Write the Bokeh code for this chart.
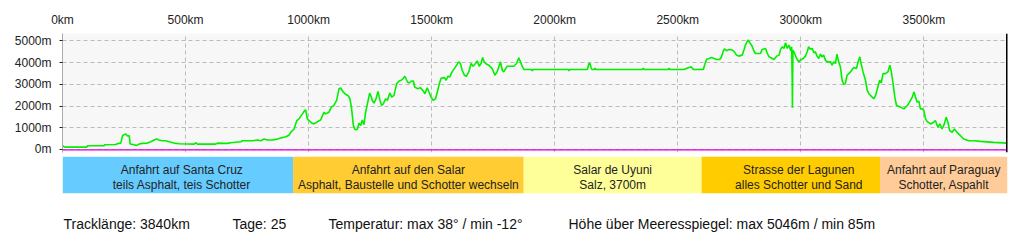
from bokeh.plotting import figure
from bokeh.layouts import column
from bokeh.models import Range1d, FixedTicker, PrintfTickFormatter, Span, Label
from bokeh.embed import file_html
from bokeh.resources import INLINE
from bokeh.core.properties import value

# ---------------- data ----------------
distance_km = [0, 9, 99, 101, 169, 172, 216, 226, 237, 244, 250, 257, 264, 271, 275, 291, 302, 311, 325, 345,
               359, 372, 383, 392, 406, 420, 433, 453, 474, 535, 542, 548, 623, 630, 657, 670, 684, 725, 731, 772,
               792, 806, 819, 833, 853, 867, 887, 908, 921, 927, 941, 952, 961, 975, 984, 988, 995, 1009, 1019, 1033,
               1049, 1063, 1069, 1083, 1092, 1103, 1114, 1124, 1130, 1141, 1151, 1160, 1168, 1174, 1182, 1189, 1198,
               1205, 1212, 1218, 1225, 1232, 1239, 1248, 1255, 1259, 1266, 1274, 1282, 1290, 1297, 1304, 1313, 1320,
               1330, 1338, 1347, 1358, 1368, 1381, 1391, 1402, 1409, 1418, 1426, 1431, 1442, 1455, 1466, 1473, 1482,
               1489, 1498, 1506, 1516, 1523, 1532, 1539, 1552, 1559, 1566, 1574, 1583, 1597, 1610, 1617, 1624, 1633,
               1641, 1651, 1660, 1668, 1678, 1685, 1693, 1701, 1707, 1712, 1719, 1732, 1746, 1757, 1766, 1773, 1780,
               1787, 1793, 1807, 1818, 1834, 1845, 1854, 1861, 1868, 1875, 1905, 1909, 1913, 2054, 2058, 2062, 2133,
               2139, 2143, 2148, 2152, 2160, 2164, 2168, 2356, 2360, 2364, 2461, 2465, 2469, 2525, 2546, 2555, 2563,
               2604, 2611, 2618, 2627, 2637, 2648, 2657, 2671, 2678, 2685, 2690, 2698, 2708, 2721, 2728, 2739, 2748,
               2762, 2769, 2775, 2785, 2793, 2802, 2809, 2816, 2836, 2843, 2857, 2864, 2871, 2884, 2891, 2902, 2912,
               2918, 2925, 2932, 2938, 2945, 2952, 2959, 2963, 2965, 2966, 2968, 2975, 2983, 2992, 2999, 3010, 3019,
               3026, 3032, 3039, 3046, 3053, 3059, 3066, 3073, 3080, 3086, 3093, 3100, 3107, 3121, 3127, 3134, 3141,
               3147, 3154, 3161, 3168, 3174, 3181, 3188, 3195, 3202, 3209, 3215, 3226, 3233, 3240, 3245, 3253, 3263,
               3270, 3277, 3290, 3297, 3304, 3313, 3321, 3327, 3334, 3344, 3354, 3362, 3368, 3376, 3382, 3389, 3406,
               3419, 3433, 3442, 3453, 3460, 3466, 3473, 3480, 3486, 3493, 3500, 3507, 3513, 3527, 3540, 3547, 3557,
               3565, 3574, 3581, 3591, 3598, 3605, 3615, 3624, 3635, 3649, 3662, 3683, 3703, 3730, 3784, 3838]
elevation_m = [185, 123, 123, 185, 185, 231, 246, 293, 308, 647, 693, 724, 631, 647, 262, 231, 200, 262, 293, 308,
               370, 447, 493, 447, 416, 416, 370, 308, 277, 262, 323, 262, 262, 308, 293, 293, 323, 370, 416, 416,
               447, 416, 493, 447, 447, 477, 539, 600, 678, 801, 955, 1340, 1417, 1648, 1802, 1833, 1417, 1263, 1186, 1263,
               1371, 1725, 1648, 1725, 1956, 2033, 2264, 2803, 2834, 2649, 2541, 2495, 2341, 1956, 1109, 924, 939,
               1217, 1109, 1371, 1155, 1725, 2110, 2603, 2418, 2264, 2141, 2341, 2680, 2264, 2033, 2110, 2341, 2264,
               2603, 2418, 2495, 3034, 3157, 3219, 3373, 3111, 3065, 3157, 3157, 2880, 2803, 2849, 2695, 2572, 2849,
               2649, 2418, 2264, 2341, 2649, 3065, 3296, 3311, 3188, 3373, 3342, 3573, 3804, 4035, 3958, 3650, 3419,
               3373, 3573, 3958, 3835, 3958, 4081, 3835, 3958, 4235, 4081, 3958, 3881, 3727, 3419, 3573, 3804, 4035,
               3650, 3573, 3835, 3835, 3835, 3958, 4220, 4035, 3835, 3681, 3681, 3620, 3681, 3681, 3620, 3681, 3681,
               3958, 3958, 3773, 3681, 3681, 3740, 3681, 3681, 3740, 3681, 3681, 3740, 3681, 3681, 3773, 3804, 3681,
               3681, 3958, 4158, 4189, 4235, 4189, 4143, 4143, 4266, 4528, 4635, 4543, 4605, 4574, 4528, 4343, 4297,
               4343, 4574, 4805, 5036, 4913, 4759, 4543, 4420, 4420, 4605, 4651, 4420, 4266, 4189, 4143, 4297, 4343,
               4605, 4728, 4651, 4913, 4651, 4805, 4543, 4728, 3342, 1925, 4574, 4420, 4189, 4035, 4112, 4189, 4297,
               4497, 4728, 4605, 4651, 4451, 4497, 4297, 4189, 4389, 4266, 4343, 4112, 4035, 4035, 3881, 4035, 3958,
               4389, 4035, 3804, 3188, 3003, 3034, 3419, 3496, 3573, 3681, 3773, 3727, 4035, 4266, 3958, 3573, 3188,
               2726, 2572, 2418, 2341, 2495, 2880, 3188, 3065, 3496, 3496, 3573, 3881, 3573, 2957, 2418, 2033, 1956,
               1879, 2033, 2187, 2418, 2649, 2418, 2187, 2233, 1879, 1879, 1802, 1417, 1309, 1186, 1263, 1340, 1032,
               1186, 955, 1109, 1494, 1263, 878, 801, 955, 801, 647, 493, 416, 416, 385, 339, 308]

x_ticks_km = [0, 500, 1000, 1500, 2000, 2500, 3000, 3500]
y_ticks_m = [0, 1000, 2000, 3000, 4000, 5000]
track_length_km = 3840

section_start_km = [0, 937, 1874, 2597, 3322]
section_end_km = [937, 1874, 2597, 3322, 3840]
section_titles = ["Anfahrt auf Santa Cruz", "Anfahrt auf den Salar", "Salar de Uyuni",
                  "Strasse der Lagunen", "Anfahrt auf Paraguay"]
section_notes = ["teils Asphalt, teis Schotter", "Asphalt, Baustelle und Schotter wechseln",
                 "Salz, 3700m", "alles Schotter und Sand", "Schotter, Aspahlt"]
section_colors = ["#66ccff", "#ffcc33", "#ffff99", "#ffcc00", "#ffcc99"]

summary_texts = ["Tracklänge: 3840km", "Tage: 25", "Temperatur: max 38° / min -12°",
                 "Höhe über Meeresspiegel: max 5046m / min 85m"]

# ---------------- styling ----------------
FONT = "Liberation Sans"
W = 1024
LEFT, RIGHT = 62, 17
label_x_offsets = [4, 0, 0, 8, 0]
summary_x_px = [63, 232, 328, 568]   # page pixels

# ---------------- main elevation chart ----------------
p = figure(width=W, height=155, x_range=Range1d(0, track_length_km), y_range=Range1d(-124, 5335),
           output_backend="svg", toolbar_location=None, x_axis_location="above",
           min_border_left=LEFT, min_border_right=RIGHT, min_border_top=33, min_border_bottom=3)
p.background_fill_color = "#f7f7f7"
p.border_fill_color = "white"
p.outline_line_color = None

xa = p.xaxis[0]
xa.ticker = FixedTicker(ticks=x_ticks_km)
xa.formatter = PrintfTickFormatter(format="%dkm")
xa.major_tick_out = 0
xa.major_tick_in = 0
xa.minor_tick_line_color = None
xa.axis_line_color = None
xa.major_label_standoff = 7
xa.major_label_text_font = FONT
xa.major_label_text_font_size = "12px"
xa.major_label_text_color = "#222222"

ya = p.yaxis[0]
ya.ticker = FixedTicker(ticks=y_ticks_m)
ya.formatter = PrintfTickFormatter(format="%dm")
ya.major_tick_out = 3
ya.major_tick_in = 0
ya.major_tick_line_color = "#222222"
ya.minor_tick_line_color = None
ya.axis_line_color = "#aaaaaa"
ya.major_label_standoff = 8
ya.major_label_text_font = FONT
ya.major_label_text_font_size = "12px"
ya.major_label_text_color = "#222222"

for g, t in ((p.xgrid[0], x_ticks_km), (p.ygrid[0], y_ticks_m)):
    g.ticker = FixedTicker(ticks=t)
    g.grid_line_color = "#bbbbbb"
    g.grid_line_dash = "4 3"
    g.grid_line_width = 1

p.add_layout(Span(location=0, dimension="width", line_color="#e000e0", line_width=1.2))
p.add_layout(Span(location=track_length_km, dimension="height", line_color="#000000", line_width=3))
p.line(distance_km, elevation_m, line_color="#00f000", line_width=1.6)

# ---------------- section bands ----------------
b = figure(width=W, height=40, x_range=p.x_range, y_range=Range1d(0, 1),
           output_backend="svg", toolbar_location=None, x_axis_location=None, y_axis_location=None,
           min_border_left=LEFT, min_border_right=RIGHT, min_border_top=1, min_border_bottom=2)
b.grid.visible = False
b.outline_line_color = None
b.background_fill_color = "white"
b.quad(left=section_start_km, right=section_end_km, bottom=0, top=1,
       fill_color=section_colors, line_color=None)
mids = [(s + e) / 2 for s, e in zip(section_start_km, section_end_km)]
texts = [t + "\n" + n for t, n in zip(section_titles, section_notes)]
b.text(x=mids, y=[0.5] * len(mids), text=texts, x_offset=label_x_offsets, y_offset=[2.5] * len(mids),
       text_align="center", text_baseline="middle", text_font=value(FONT),
       text_font_size="12px", text_line_height=1.1, text_color="#222222")

# ---------------- summary line ----------------
c = figure(width=W, height=55, x_range=Range1d(0, W - LEFT - RIGHT), y_range=Range1d(0, 55),
           output_backend="svg", toolbar_location=None, x_axis_location=None, y_axis_location=None,
           min_border_left=LEFT, min_border_right=RIGHT, min_border_top=0, min_border_bottom=0)
c.grid.visible = False
c.outline_line_color = None
for txt, xp in zip(summary_texts, summary_x_px):
    c.add_layout(Label(x=xp - LEFT, y=27, x_units="screen", y_units="screen", text=txt,
                       text_font=FONT, text_font_size="14px", text_baseline="middle",
                       text_color="#111111"))

layout = column(p, b, c, spacing=0)
open("out.html", "w").write(file_html(layout, INLINE))
